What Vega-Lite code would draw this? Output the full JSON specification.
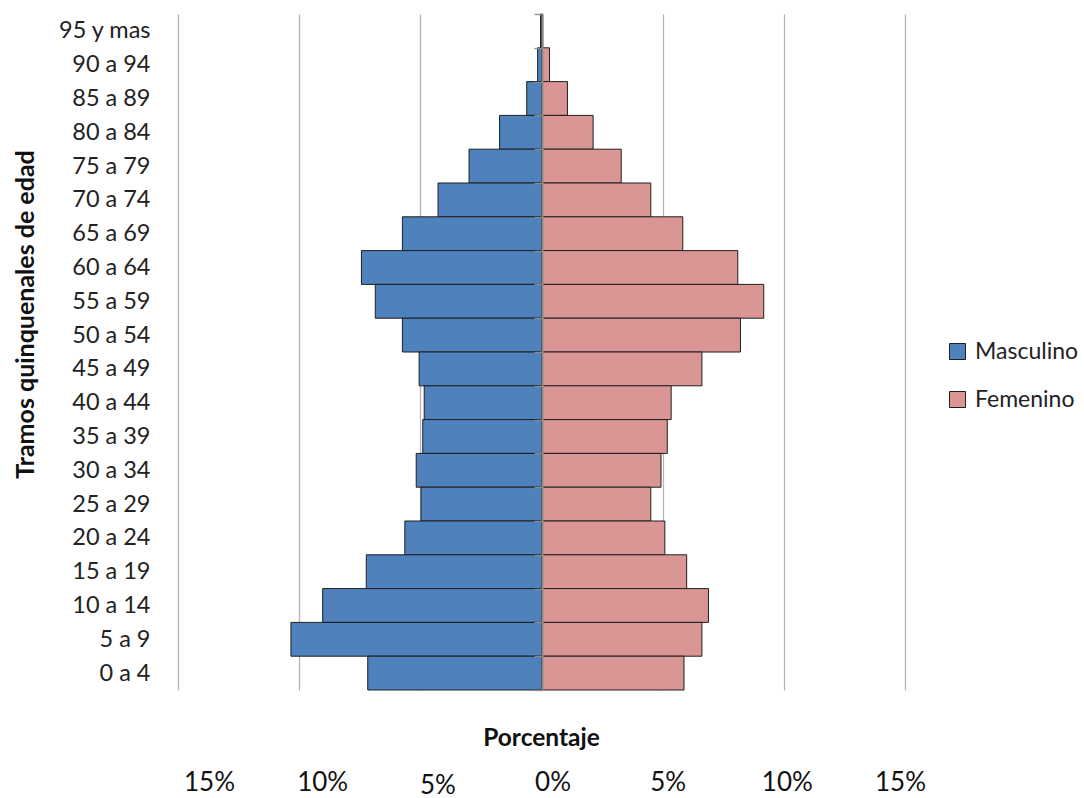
{
  "$schema": "https://vega.github.io/schema/vega-lite/v6.json",
  "width": 727,
  "height": 676,
  "autosize": {"type": "none"},
  "padding": {"left": 178, "top": 14, "right": 179, "bottom": 108},
  "background": "white",
  "config": {
    "view": {"stroke": null},
    "font": "Lato",
    "axis": {"labelFont": "Lato", "titleFont": "Lato"},
    "legend": {"labelFont": "Lato"}
  },
  "data": {
    "values": [
      {"tramo": "95 y mas", "sexo": "Masculino", "valor": -0.04},
      {"tramo": "95 y mas", "sexo": "Femenino", "valor": 0.05},
      {"tramo": "90 a 94", "sexo": "Masculino", "valor": -0.16},
      {"tramo": "90 a 94", "sexo": "Femenino", "valor": 0.33},
      {"tramo": "85 a 89", "sexo": "Masculino", "valor": -0.61},
      {"tramo": "85 a 89", "sexo": "Femenino", "valor": 1.07},
      {"tramo": "80 a 84", "sexo": "Masculino", "valor": -1.73},
      {"tramo": "80 a 84", "sexo": "Femenino", "valor": 2.13},
      {"tramo": "75 a 79", "sexo": "Masculino", "valor": -2.99},
      {"tramo": "75 a 79", "sexo": "Femenino", "valor": 3.29},
      {"tramo": "70 a 74", "sexo": "Masculino", "valor": -4.27},
      {"tramo": "70 a 74", "sexo": "Femenino", "valor": 4.51},
      {"tramo": "65 a 69", "sexo": "Masculino", "valor": -5.74},
      {"tramo": "65 a 69", "sexo": "Femenino", "valor": 5.83},
      {"tramo": "60 a 64", "sexo": "Masculino", "valor": -7.43},
      {"tramo": "60 a 64", "sexo": "Femenino", "valor": 8.10},
      {"tramo": "55 a 59", "sexo": "Masculino", "valor": -6.86},
      {"tramo": "55 a 59", "sexo": "Femenino", "valor": 9.17},
      {"tramo": "50 a 54", "sexo": "Masculino", "valor": -5.74},
      {"tramo": "50 a 54", "sexo": "Femenino", "valor": 8.21},
      {"tramo": "45 a 49", "sexo": "Masculino", "valor": -5.05},
      {"tramo": "45 a 49", "sexo": "Femenino", "valor": 6.62},
      {"tramo": "40 a 44", "sexo": "Masculino", "valor": -4.84},
      {"tramo": "40 a 44", "sexo": "Femenino", "valor": 5.35},
      {"tramo": "35 a 39", "sexo": "Masculino", "valor": -4.90},
      {"tramo": "35 a 39", "sexo": "Femenino", "valor": 5.19},
      {"tramo": "30 a 34", "sexo": "Masculino", "valor": -5.17},
      {"tramo": "30 a 34", "sexo": "Femenino", "valor": 4.93},
      {"tramo": "25 a 29", "sexo": "Masculino", "valor": -4.97},
      {"tramo": "25 a 29", "sexo": "Femenino", "valor": 4.51},
      {"tramo": "20 a 24", "sexo": "Masculino", "valor": -5.64},
      {"tramo": "20 a 24", "sexo": "Femenino", "valor": 5.09},
      {"tramo": "15 a 19", "sexo": "Masculino", "valor": -7.23},
      {"tramo": "15 a 19", "sexo": "Femenino", "valor": 5.99},
      {"tramo": "10 a 14", "sexo": "Masculino", "valor": -9.03},
      {"tramo": "10 a 14", "sexo": "Femenino", "valor": 6.89},
      {"tramo": "5 a 9", "sexo": "Masculino", "valor": -10.34},
      {"tramo": "5 a 9", "sexo": "Femenino", "valor": 6.62},
      {"tramo": "0 a 4", "sexo": "Masculino", "valor": -7.17},
      {"tramo": "0 a 4", "sexo": "Femenino", "valor": 5.88}
    ]
  },
  "mark": {"type": "bar", "stroke": "#1f1f1f", "strokeWidth": 1},
  "encoding": {
    "y": {
      "field": "tramo",
      "type": "nominal",
      "sort": ["95 y mas", "90 a 94", "85 a 89", "80 a 84", "75 a 79", "70 a 74", "65 a 69", "60 a 64", "55 a 59", "50 a 54", "45 a 49", "40 a 44", "35 a 39", "30 a 34", "25 a 29", "20 a 24", "15 a 19", "10 a 14", "5 a 9", "0 a 4"],
      "scale": {"paddingInner": 0, "paddingOuter": 0},
      "axis": {
        "title": "Tramos quinquenales de edad",
        "orient": "left",
        "offset": -364,
        "tickBand": "extent",
        "tickSize": 8,
        "tickColor": "#8c8c8c",
        "tickWidth": 1.3,
        "domainColor": "#8c8c8c",
        "domainWidth": 2,
        "labelPadding": 384,
        "labelFontSize": 23.5,
        "labelColor": "#222222",
        "labelAlign": "right",
        "labelBaseline": "middle",
        "titleFontSize": 25,
        "titleFontWeight": "bold",
        "titleColor": "#111111",
        "titleX": -517,
        "titleY": 300,
        "titleAngle": -90,
        "titleAlign": "center",
        "titleBaseline": "middle",
        "zindex": 2,
        "grid": false
      }
    },
    "x": {
      "field": "valor",
      "type": "quantitative",
      "stack": null,
      "scale": {"domain": [-15, 15], "nice": false},
      "axis": {
        "values": [-15, -10, -5, 0, 5, 10, 15],
        "labelExpr": "abs(datum.value) + '%'",
        "grid": true,
        "gridColor": "#b4b4b4",
        "gridWidth": 1.3,
        "domain": false,
        "ticks": false,
        "tickSize": 0,
        "labelFontSize": 26,
        "labelColor": "#111111",
        "labelBaseline": "alphabetic",
        "labelPadding": {"expr": "datum.value == -5 ? 103 : 100"},
        "labelOffset": {"expr": "datum.value == -15 ? 31 : datum.value == -10 ? 23 : datum.value == -5 ? 17 : datum.value == 0 ? 11 : datum.value == 5 ? 5 : datum.value == 10 ? 3 : -5"},
        "labelFlush": false,
        "labelOverlap": false,
        "title": "Porcentaje",
        "titleX": 363,
        "titleY": 48,
        "titleAlign": "center",
        "titleBaseline": "middle",
        "titleFontSize": 24.5,
        "titleFontWeight": "bold",
        "titleColor": "#111111",
        "zindex": 0
      }
    },
    "color": {
      "field": "sexo",
      "type": "nominal",
      "scale": {"domain": ["Masculino", "Femenino"], "range": ["#4F81BD", "#D99694"]},
      "legend": {
        "title": null,
        "orient": "none",
        "legendX": 768,
        "legendY": 326,
        "padding": 0,
        "symbolType": "square",
        "symbolSize": 256,
        "symbolStrokeColor": "#1f1f1f",
        "symbolStrokeWidth": 1,
        "labelFontSize": 23,
        "labelColor": "#222222",
        "labelOffset": 6,
        "rowPadding": 24
      }
    }
  }
}
